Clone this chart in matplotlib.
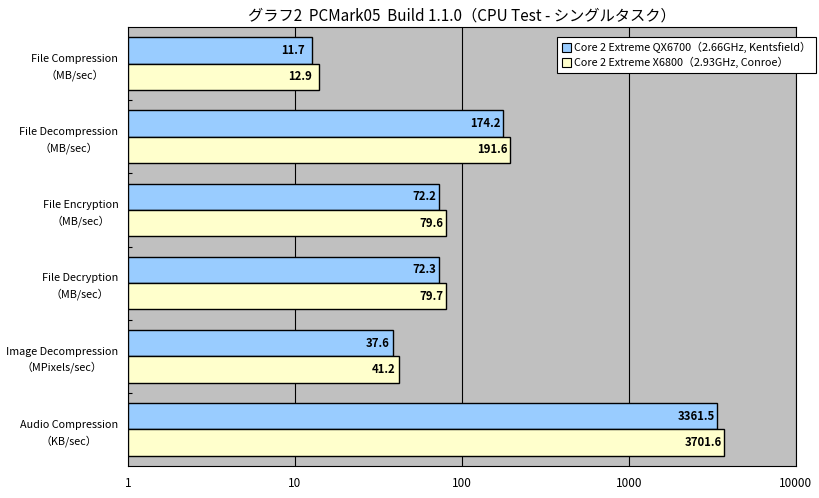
import numpy as np
import matplotlib.pyplot as plt
from matplotlib.patches import Patch
from matplotlib.ticker import FixedLocator, NullFormatter

plt.rcParams['font.family'] = ['Noto Sans CJK JP', 'DejaVu Sans']

categories = ['File Compression\n（MB/sec）', 'File Decompression\n（MB/sec）',
              'File Encryption\n（MB/sec）', 'File Decryption\n（MB/sec）',
              'Image Decompression\n（MPixels/sec）', 'Audio Compression\n（KB/sec）']
qx6700 = [11.7, 174.2, 72.2, 72.3, 37.6, 3361.5]
x6800 = [12.9, 191.6, 79.6, 79.7, 41.2, 3701.6]
series_names = ['Core 2 Extreme QX6700（2.66GHz, Kentsfield）',
                'Core 2 Extreme X6800（2.93GHz, Conroe）']
xticks = [1, 10, 100, 1000, 10000]

blue = '#99CCFF'
yellow = '#FFFFCC'

fig = plt.figure(figsize=(8.19, 4.98), dpi=100)
ax = fig.add_axes([128 / 819, 1 - 466 / 498, 668 / 819, 439 / 498])
ax.set_facecolor('#C0C0C0')

pos = np.arange(len(categories))
h = 0.36
b1 = ax.barh(pos - 0.18, qx6700, height=h, left=1, color=blue, edgecolor='black', linewidth=1, zorder=3)
b2 = ax.barh(pos + 0.18, x6800, height=h, left=1, color=yellow, edgecolor='black', linewidth=1, zorder=3)

for bars, vals in ((b1, qx6700), (b2, x6800)):
    for bar, v in zip(bars, vals):
        ax.text(v * 0.975, bar.get_y() + bar.get_height() / 2, f'{v:.1f}',
                ha='right', va='center', fontsize=8.2, fontweight='bold', zorder=4)

ax.set_xscale('log')
ax.set_xlim(1, 10000)
ax.set_ylim(len(categories) - 0.5, -0.5)
ax.set_xticks(xticks)
ax.set_xticklabels([str(t) for t in xticks], fontsize=8.5)
ax.xaxis.set_minor_locator(FixedLocator([]))
ax.tick_params(axis='x', length=0, pad=8)
ax.grid(axis='x', which='major', color='black', linewidth=0.8, zorder=1)

ax.set_yticks(pos)
ax.set_yticklabels(categories, fontsize=7.8, ha='right', ma='center', linespacing=1.55)
ax.tick_params(axis='y', which='major', length=0, pad=7)
ax.yaxis.set_minor_locator(FixedLocator(pos[:-1] + 0.5))
ax.yaxis.set_minor_formatter(NullFormatter())
ax.tick_params(axis='y', which='minor', direction='in', length=3, width=0.8)

for s in ax.spines.values():
    s.set_linewidth(0.8)

fig.text((128 + 796) / 2 / 819, 1 - 16 / 498, 'グラフ2  PCMark05  Build 1.1.0（CPU Test - シングルタスク）',
         ha='center', va='center', fontsize=11)

handles = [Patch(facecolor=blue, edgecolor='black', linewidth=0.8),
           Patch(facecolor=yellow, edgecolor='black', linewidth=0.8)]
leg = fig.legend(handles, series_names, loc='upper left', bbox_to_anchor=(557 / 819, 1 - 37 / 498),
                 fontsize=7.8, frameon=True, fancybox=False, edgecolor='black', framealpha=1,
                 handlelength=0.8, handleheight=0.8, handletextpad=0.3, borderpad=0.45,
                 labelspacing=0.35, borderaxespad=0)
leg.get_frame().set_linewidth(0.8)

fig.savefig('out.png', dpi=100)
